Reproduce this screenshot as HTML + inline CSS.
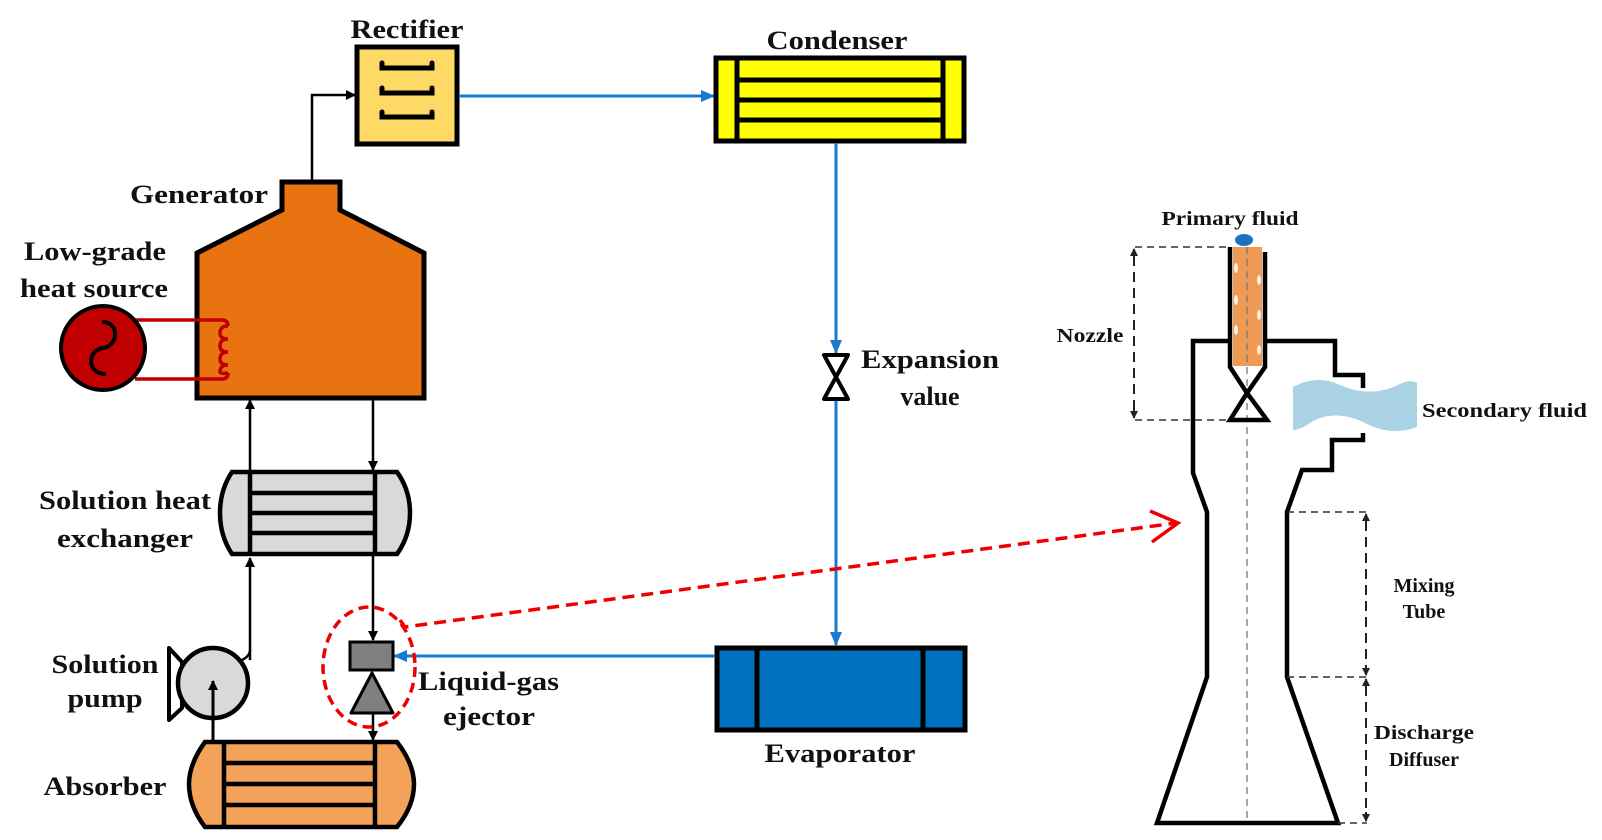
<!DOCTYPE html>
<html><head><meta charset="utf-8"><style>
html,body{margin:0;padding:0;background:#fff;}
svg{display:block;}
text{font-family:"Liberation Serif",serif;font-weight:bold;fill:#111;}
</style></head><body>
<svg width="1602" height="840" viewBox="0 0 1602 840" xmlns="http://www.w3.org/2000/svg">
<defs>
<marker id="ab" markerWidth="10" markerHeight="10" refX="9" refY="5" orient="auto" markerUnits="userSpaceOnUse"><path d="M0,0 L10,5 L0,10 z" fill="#000"/></marker>
<marker id="abl" markerWidth="14" markerHeight="12" refX="13" refY="6" orient="auto" markerUnits="userSpaceOnUse"><path d="M0,0 L14,6 L0,12 z" fill="#1a7ad0"/></marker>
<marker id="ak" markerWidth="8" markerHeight="8" refX="7" refY="4" orient="auto" markerUnits="userSpaceOnUse"><path d="M0,0 L8,4 L0,8 z" fill="#222"/></marker>
</defs>

<!-- Rectifier -->
<text x="407" y="38" font-size="26" text-anchor="middle" textLength="113" lengthAdjust="spacingAndGlyphs">Rectifier</text>
<rect x="357" y="47" width="100" height="97" fill="#FFD966" stroke="#000" stroke-width="5"/>
<g fill="none" stroke="#000" stroke-width="5" stroke-linecap="round">
<path d="M382,63 v5 h50 v-5"/><path d="M382,88 v5 h50 v-5"/><path d="M382,112 v5 h50 v-5"/>
</g>
<!-- gen to rectifier -->
<polyline points="312,182 312,95 355,95" fill="none" stroke="#000" stroke-width="2.5" marker-end="url(#ab)"/>
<!-- rectifier to condenser -->
<line x1="459" y1="96" x2="714" y2="96" stroke="#1a7ad0" stroke-width="3" marker-end="url(#abl)"/>

<!-- Condenser -->
<text x="837" y="49" font-size="26" text-anchor="middle" textLength="141" lengthAdjust="spacingAndGlyphs">Condenser</text>
<rect x="716" y="58" width="248" height="83" fill="#FFFF00" stroke="#000" stroke-width="5"/>
<g stroke="#000" stroke-width="5"><line x1="737" y1="58" x2="737" y2="141"/><line x1="943" y1="58" x2="943" y2="141"/>
<line x1="737" y1="80" x2="943" y2="80"/><line x1="737" y1="100" x2="943" y2="100"/><line x1="737" y1="120" x2="943" y2="120"/></g>
<line x1="836" y1="143" x2="836" y2="353" stroke="#1a7ad0" stroke-width="3" marker-end="url(#abl)"/>
<!-- valve -->
<path d="M824,355 L848,355 L836,377 Z M836,377 L824,399 L848,399 Z" fill="#fff" stroke="#000" stroke-width="4" stroke-linejoin="round"/>
<text x="930" y="368" font-size="26" text-anchor="middle" textLength="138" lengthAdjust="spacingAndGlyphs">Expansion</text>
<text x="930" y="405" font-size="26" text-anchor="middle">value</text>
<line x1="836" y1="401" x2="836" y2="645" stroke="#1a7ad0" stroke-width="3" marker-end="url(#abl)"/>

<!-- Evaporator -->
<rect x="717" y="648" width="248" height="82" fill="#0070C0" stroke="#000" stroke-width="5"/>
<g stroke="#000" stroke-width="5"><line x1="757" y1="648" x2="757" y2="730"/><line x1="923" y1="648" x2="923" y2="730"/></g>
<text x="840" y="762" font-size="26" text-anchor="middle" textLength="151" lengthAdjust="spacingAndGlyphs">Evaporator</text>
<line x1="715" y1="656" x2="394" y2="656" stroke="#1a7ad0" stroke-width="3" marker-end="url(#abl)"/>

<!-- Generator -->
<text x="199" y="203" font-size="26" text-anchor="middle" textLength="138" lengthAdjust="spacingAndGlyphs">Generator</text>
<polygon points="197,253 282,210 282,182 340,182 340,210 424,253 424,398 197,398" fill="#E97311" stroke="#000" stroke-width="5" stroke-linejoin="miter"/>
<text x="95" y="260" font-size="26" text-anchor="middle" textLength="142" lengthAdjust="spacingAndGlyphs">Low-grade</text>
<text x="94" y="297" font-size="26" text-anchor="middle" textLength="148" lengthAdjust="spacingAndGlyphs">heat source</text>
<!-- heat source -->
<path d="M135,320 H222 Q228,320 228,326 M135,379 H222 Q228,379 228,373" fill="none" stroke="#C00000" stroke-width="3.5"/>
<path d="M228,326 q-8,0 -8,7 q0,6 8,6 q-8,0 -8,7 q0,6 8,6 q-8,0 -8,7 q0,6 8,6 q-8,0 -8,7 q0,2 8,1" fill="none" stroke="#C00000" stroke-width="3.5"/>
<circle cx="103" cy="348" r="42" fill="#C00000" stroke="#000" stroke-width="4"/>
<path d="M104,322 C120,324 118,346 103,348 C88,350 86,372 104,374" fill="none" stroke="#000" stroke-width="4" stroke-linecap="round"/>

<!-- generator <-> SHX -->
<line x1="250" y1="471" x2="250" y2="400" stroke="#000" stroke-width="2.5" marker-end="url(#ab)"/>
<line x1="373" y1="400" x2="373" y2="470" stroke="#000" stroke-width="2.5" marker-end="url(#ab)"/>

<!-- SHX -->
<text x="125" y="509" font-size="26" text-anchor="middle" textLength="172" lengthAdjust="spacingAndGlyphs">Solution heat</text>
<text x="125" y="547" font-size="26" text-anchor="middle" textLength="136" lengthAdjust="spacingAndGlyphs">exchanger</text>
<path d="M232,472 H397 Q410,490 410,513 Q410,536 397,554 H232 Q220,536 220,513 Q220,490 232,472 Z" fill="#D9D9D9" stroke="#000" stroke-width="4.5"/>
<g stroke="#000" stroke-width="4.5"><line x1="250" y1="472" x2="250" y2="554"/><line x1="375" y1="472" x2="375" y2="554"/>
<line x1="250" y1="493" x2="375" y2="493"/><line x1="250" y1="513" x2="375" y2="513"/><line x1="250" y1="533" x2="375" y2="533"/></g>

<!-- SHX to ejector -->
<line x1="373" y1="556" x2="373" y2="640" stroke="#000" stroke-width="2.5" marker-end="url(#ab)"/>
<!-- pump to SHX -->
<line x1="250" y1="660" x2="250" y2="558" stroke="#000" stroke-width="2.5" marker-end="url(#ab)"/>
<path d="M242,660 Q250,656 250,650" fill="none" stroke="#000" stroke-width="2.5"/>

<!-- Pump -->
<text x="105" y="673" font-size="26" text-anchor="middle" textLength="107" lengthAdjust="spacingAndGlyphs">Solution</text>
<text x="105" y="707" font-size="26" text-anchor="middle" textLength="75" lengthAdjust="spacingAndGlyphs">pump</text>
<path d="M169,648 L182,662 L182,708 L169,720 Z" fill="#fff" stroke="#000" stroke-width="4" stroke-linejoin="round"/>
<circle cx="213" cy="683" r="35" fill="#D9D9D9" stroke="#000" stroke-width="4.5"/>
<line x1="213" y1="742" x2="213" y2="681" stroke="#000" stroke-width="3" marker-end="url(#ab)"/>

<!-- Ejector small -->
<rect x="350" y="642" width="43" height="28" fill="#7F7F7F" stroke="#000" stroke-width="3"/>
<polygon points="372,673 351,713 393,713" fill="#7F7F7F" stroke="#000" stroke-width="3" stroke-linejoin="round"/>
<line x1="373" y1="714" x2="373" y2="740" stroke="#000" stroke-width="2.5" marker-end="url(#ab)"/>
<ellipse cx="369" cy="667" rx="46" ry="60" fill="none" stroke="#ee0000" stroke-width="3.5" stroke-dasharray="10,6"/>
<text x="418" y="690" font-size="26" textLength="141" lengthAdjust="spacingAndGlyphs">Liquid-gas</text>
<text x="489" y="725" font-size="26" text-anchor="middle" textLength="92" lengthAdjust="spacingAndGlyphs">ejector</text>

<!-- Absorber -->
<text x="105" y="795" font-size="26" text-anchor="middle" textLength="123" lengthAdjust="spacingAndGlyphs">Absorber</text>
<path d="M205,742 H397 Q414,764 414,784 Q414,806 397,827 H205 Q189,806 189,784 Q189,764 205,742 Z" fill="#F4A15A" stroke="#000" stroke-width="4.5"/>
<g stroke="#000" stroke-width="4.5"><line x1="224" y1="742" x2="224" y2="827"/><line x1="375" y1="742" x2="375" y2="827"/>
<line x1="224" y1="763" x2="375" y2="763"/><line x1="224" y1="784" x2="375" y2="784"/><line x1="224" y1="805" x2="375" y2="805"/></g>

<!-- Red dashed arrow -->
<path d="M400,620 L405,627 L1176,523" fill="none" stroke="#ee0000" stroke-width="3.5" stroke-dasharray="12,7"/>
<path d="M1150,511 L1178,523 L1152,542" fill="none" stroke="#ee0000" stroke-width="3.5"/>

<!-- Ejector detail -->
<text x="1230" y="225" font-size="20" text-anchor="middle" textLength="137" lengthAdjust="spacingAndGlyphs">Primary fluid</text>
<rect x="1233" y="247" width="29" height="119" fill="#EE9A55"/>
<g fill="#fff" opacity="0.85"><ellipse cx="1236" cy="268" rx="2" ry="5"/><ellipse cx="1236" cy="300" rx="2" ry="5"/><ellipse cx="1236" cy="330" rx="2" ry="5"/><ellipse cx="1259" cy="280" rx="2" ry="5"/><ellipse cx="1259" cy="315" rx="2" ry="5"/><ellipse cx="1259" cy="350" rx="2" ry="5"/></g>
<ellipse cx="1244" cy="240" rx="9" ry="6" fill="#1F6FC0"/>
<line x1="1247" y1="247" x2="1247" y2="823" stroke="#777" stroke-width="1.3" stroke-dasharray="7,5"/>
<g fill="none" stroke="#000" stroke-width="4.5" stroke-linejoin="miter">
<path d="M1230,247 V367 L1247,393 L1230,420 H1267 L1247,393 L1265,367 V252"/>
<path d="M1230,341 H1193 V473 L1207,512 V677 L1157,823 H1338 L1287,677 V512 L1302,470 H1332 V440 H1363 V433"/>
<path d="M1265,341 H1335 V375 H1363 V388"/>
</g>
<!-- secondary fluid -->
<path d="M1293,387 C1310,378 1325,378 1340,385 C1360,394 1380,394 1400,384 C1408,380 1413,381 1417,383 V427 C1400,433 1385,433 1365,423 C1345,413 1325,413 1310,423 C1303,428 1297,430 1293,430 Z" fill="#A9D2E4"/>
<text x="1422" y="417" font-size="20" textLength="165" lengthAdjust="spacingAndGlyphs">Secondary fluid</text>
<!-- nozzle dims -->
<g stroke="#333" stroke-width="1.5" stroke-dasharray="7,5" fill="none">
<line x1="1135" y1="247" x2="1230" y2="247"/><line x1="1135" y1="420" x2="1230" y2="420"/>
<line x1="1287" y1="512" x2="1367" y2="512"/><line x1="1287" y1="677" x2="1367" y2="677"/><line x1="1338" y1="823" x2="1367" y2="823"/>
</g>
<g stroke="#222" stroke-width="2" stroke-dasharray="10,6">
<line x1="1134" y1="256" x2="1134" y2="411"/>
<line x1="1366" y1="521" x2="1366" y2="668"/>
<line x1="1366" y1="686" x2="1366" y2="814"/>
</g>
<g stroke="#222" stroke-width="2">
<line x1="1134" y1="258" x2="1134" y2="249" marker-end="url(#ak)"/><line x1="1134" y1="409" x2="1134" y2="418" marker-end="url(#ak)"/>
<line x1="1366" y1="523" x2="1366" y2="514" marker-end="url(#ak)"/><line x1="1366" y1="666" x2="1366" y2="675" marker-end="url(#ak)"/>
<line x1="1366" y1="688" x2="1366" y2="679" marker-end="url(#ak)"/><line x1="1366" y1="812" x2="1366" y2="821" marker-end="url(#ak)"/>
</g>
<text x="1090" y="342" font-size="20" text-anchor="middle" textLength="67" lengthAdjust="spacingAndGlyphs">Nozzle</text>
<text x="1424" y="592" font-size="20" text-anchor="middle">Mixing</text>
<text x="1424" y="618" font-size="20" text-anchor="middle">Tube</text>
<text x="1424" y="739" font-size="20" text-anchor="middle" textLength="100" lengthAdjust="spacingAndGlyphs">Discharge</text>
<text x="1424" y="766" font-size="20" text-anchor="middle">Diffuser</text>
</svg>
</body></html>
